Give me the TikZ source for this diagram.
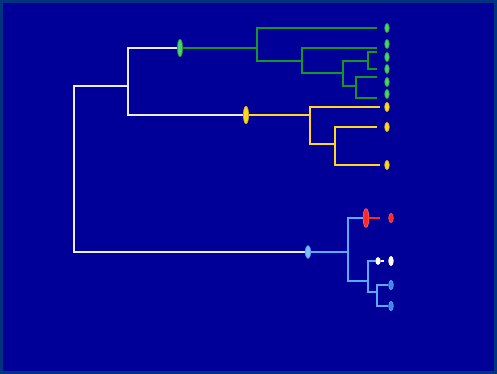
\documentclass[tikz,border=0pt]{standalone}
\usepackage{tikz}
\usetikzlibrary{shapes.geometric}

\definecolor{bgblue}{RGB}{0,0,153}
\definecolor{edgeblue}{RGB}{0,51,128}
\definecolor{treewhite}{RGB}{235,235,255}
\definecolor{gline}{RGB}{20,150,40}
\definecolor{gleaf}{RGB}{80,205,110}
\definecolor{yline}{RGB}{255,215,30}
\definecolor{bline}{RGB}{90,170,255}
\definecolor{bleaf}{RGB}{70,130,230}
\definecolor{rline}{RGB}{255,40,40}

\tikzset{
  branch/.style={line width=1.6pt},
  leaf/.style={ellipse, draw, line width=0.5pt, inner sep=0pt,
    minimum width=4pt, minimum height=8pt},
  knot/.style={leaf, minimum width=4.5pt, minimum height=15pt},
}

\begin{document}
\begin{tikzpicture}[x=0.03cm,y=-0.03cm]
    \fill [edgeblue] (0,0) rectangle (497,374);
    \fill [bgblue] (3,3) rectangle (494,371);

    % ovals on the stems
    \node[knot,draw=gline,fill=gleaf] (kg) at (180,48) {};
    \node[knot,draw=yline!80!black,fill=yline] (ky) at (246,115) {};
    \node[knot,minimum height=11pt,draw=bline,fill=bline!80!white] (kb) at (308,252) {};
    \node[knot,minimum width=5pt,minimum height=16pt,draw=rline!70!white,fill=rline] (kr) at (366,218) {};
    \node[leaf,minimum height=6pt,draw=white,fill=white] (kw) at (378,261) {};

    % inner points
    \coordinate (root) at (74,200);
    \coordinate (gy) at (128,86);
    \coordinate (g1) at (257,48);
    \coordinate (g2) at (302,61);
    \coordinate (g3) at (343,73);
    \coordinate (g4) at (368,61);
    \coordinate (g5) at (356,86);
    \coordinate (y1) at (310,115);
    \coordinate (y2) at (335,144);
    \coordinate (b1) at (348,252);
    \coordinate (b2) at (368,281);
    \coordinate (b3) at (377,292);

    % branch ends
    \coordinate (gt1) at (377,28);
    \coordinate (gt2) at (377,48);
    \coordinate (gt3) at (377,52);
    \coordinate (gt4) at (377,69);
    \coordinate (gt5) at (377,77);
    \coordinate (gt6) at (377,98);
    \coordinate (yt1) at (380,107);
    \coordinate (yt2) at (377,127);
    \coordinate (yt3) at (380,165);
    \coordinate (rt1) at (380,218);
    \coordinate (wt1) at (384,261);

    % leaves
    \foreach \y [count=\i] in {28,44,57,69,82,94}
        \node[leaf,draw=gline,fill=gleaf] (gl\i) at (387,\y) {};
    \foreach \y [count=\i] in {107,127,165}
        \node[leaf,draw=yline!80!black,fill=yline] (yl\i) at (387,\y) {};
    \node[leaf,draw=rline!80!white,fill=rline] (rl1) at (391,218) {};
    \node[leaf,draw=white,fill=white] (wl1) at (391,261) {};
    \node[leaf,draw=bline,fill=bleaf] (bl1) at (391,285) {};
    \node[leaf,draw=bline,fill=bleaf] (bl2) at (391,306) {};

    % white part
    \draw[branch,treewhite] (gy) -| (root) |- (kb);
    \draw[branch,treewhite] (kg) -| (gy) |- (ky);

    % green clade
    \draw[branch,gline] (kg) -- (g1);
    \draw[branch,gline] (gt1) -| (g1) |- (g2);
    \draw[branch,gline] (gt2) -| (g2) |- (g3);
    \draw[branch,gline] (g4) -| (g3) |- (g5);
    \draw[branch,gline] (gt3) -| (g4) |- (gt4);
    \draw[branch,gline] (gt5) -| (g5) |- (gt6);

    % yellow clade
    \draw[branch,yline] (ky) -- (y1);
    \draw[branch,yline] (yt1) -| (y1) |- (y2);
    \draw[branch,yline] (yt2) -| (y2) |- (yt3);

    % blue clade
    \draw[branch,bline] (kb) -- (b1);
    \draw[branch,bline] (kr) -| (b1) |- (b2);
    \draw[branch,bline] (kw) -| (b2) |- (b3);
    \draw[branch,bline] (bl1) -| (b3) |- (bl2);
    \draw[branch,rline] (kr) -- (rt1);
    \draw[branch,white] (kw) -- (wt1);
\end{tikzpicture}
\end{document}
